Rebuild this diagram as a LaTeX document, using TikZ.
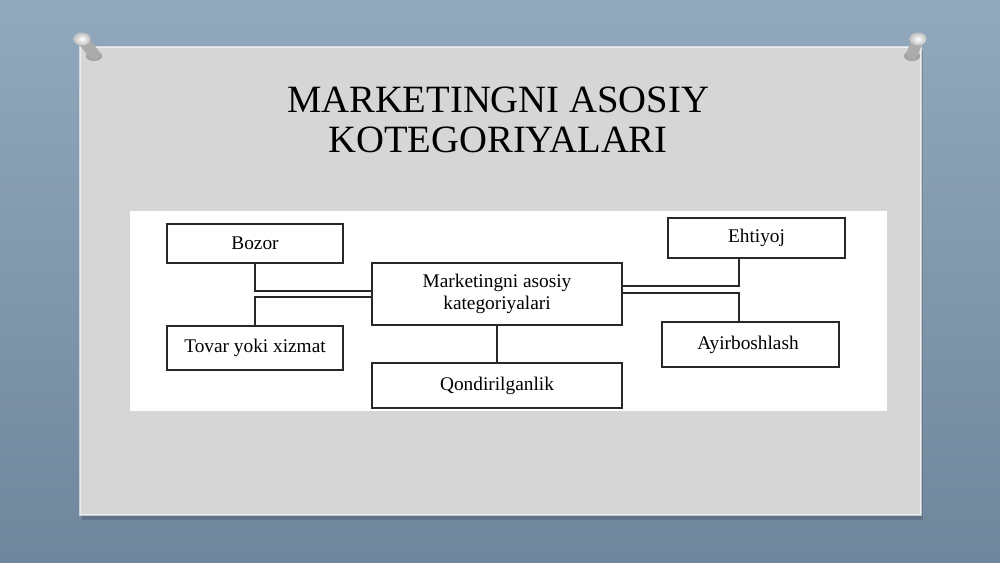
\documentclass[tikz,border=0pt]{standalone}
\usepackage{fontspec}
\setmainfont{Liberation Serif}
\usetikzlibrary{positioning}

\definecolor{wall}{RGB}{146,168,188}
\definecolor{walldark}{RGB}{112,134,156}
\definecolor{card}{RGB}{214,214,214}
\definecolor{boxline}{RGB}{40,40,40}

\tikzset{
	catbox/.style={draw=boxline, line width=0.7pt, fill=white, inner sep=0pt, align=center,
		font=\fontsize{11}{12.5}\selectfont},
	link/.style={draw=boxline, line width=0.7pt}
}

\begin{document}
\begin{tikzpicture}[x=0.02cm, y=-0.02cm]
\useasboundingbox (0,0) rectangle (1000,562);
% wall and card
\shade[top color=wall, bottom color=walldark] (0,0) rectangle (1000,562);
\fill[black, opacity=0.15] (82,51) rectangle (923,520);
\fill[card] (80,47) rectangle (921,515);
\draw[white, opacity=0.6, line width=0.8pt] (80,47) rectangle (921,515);
% pins
\foreach \hx/\hy/\bx/\by in {82/39/94/54, 918/39/912/54}{
	\fill[black, opacity=0.25] (\bx,\by+2) ellipse (8 and 5);
	\draw[line width=6.5pt, gray!65, line cap=round] (\hx,\hy) -- (\bx,\by);
	\shade[inner color=white, outer color=gray!50] (\hx,\hy) ellipse (8.5 and 6.5);
}
% title
\node[font=\fontsize{22}{22.7}\selectfont, align=center] (title) at (498,120) {MARKETINGNI ASOSIY\\KOTEGORIYALARI};
% diagram sheet
\fill[white] (130,211) rectangle (887,411);
\foreach \n/\x/\w/\h/\t in{
	bozor/{(255,243.5)}/176/39/{Bozor},
	tovar/{(255,348)}/176/44/{Tovar yoki xizmat},
	markaz/{(497,294)}/250/62/{Marketingni asosiy\\kategoriyalari},
	qondir/{(497,385.5)}/250/45/{Qondirilganlik},
	ehtiyoj/{(756.5,238)}/177/40/{Ehtiyoj},
	ayir/{(750.5,344.5)}/177/45/{Ayirboshlash}
}
{
	\node[catbox, minimum width=\w*0.02cm, minimum height=\h*0.02cm] (\n) at \x {\t};
}
\draw[link] (bozor.south) |- ([yshift=0.06cm]markaz.west);
\draw[link] ([yshift=-0.06cm]markaz.west) -| (tovar.north);
\draw[link] ([yshift=0.16cm]markaz.east) -| ([xshift=-0.35cm]ehtiyoj.south);
\draw[link] ([yshift=0.02cm]markaz.east) -| ([xshift=-0.23cm]ayir.north);
\draw[link] (markaz) -- (qondir);
\end{tikzpicture}
\end{document}
